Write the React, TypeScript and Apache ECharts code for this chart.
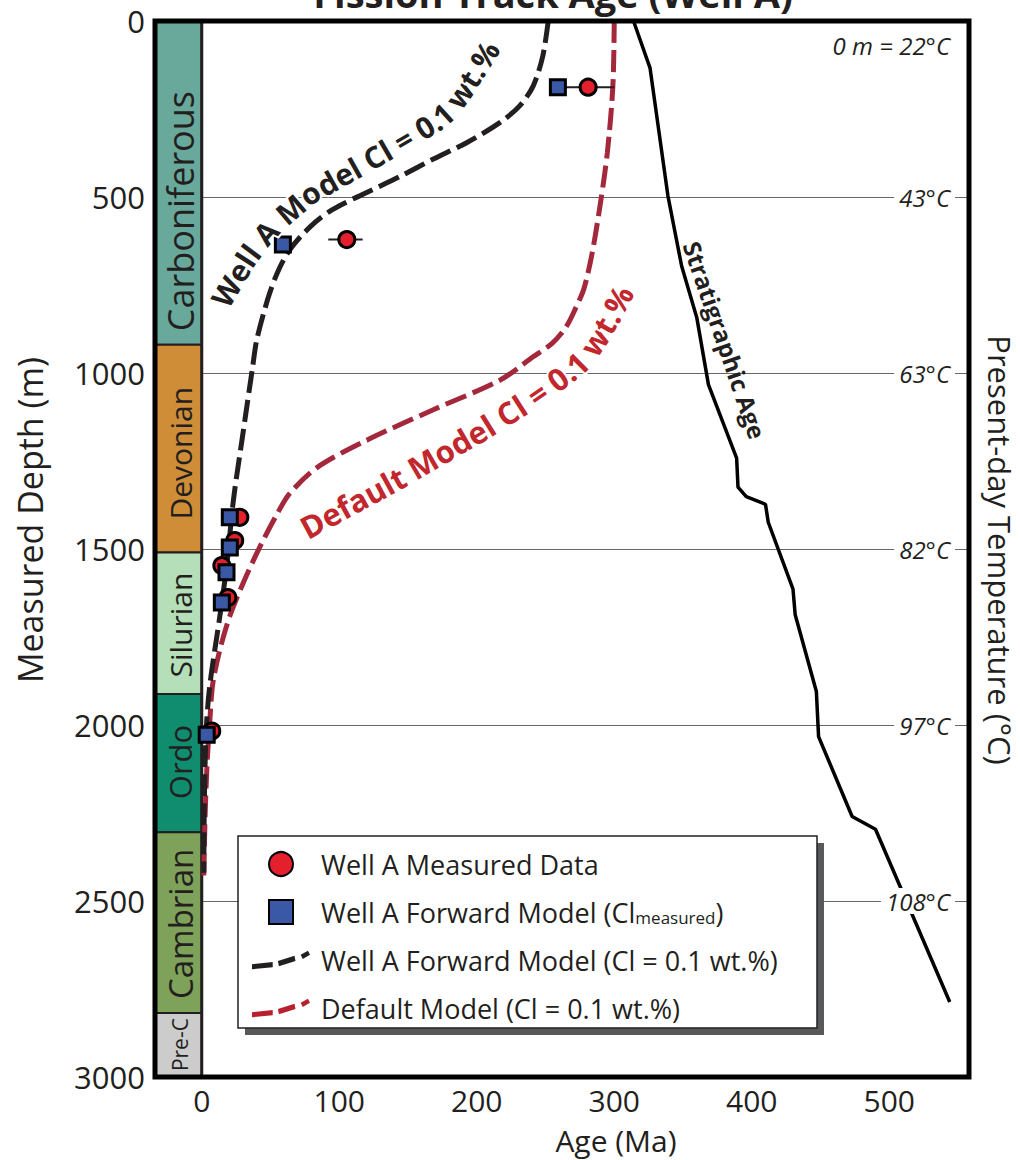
import React, { useEffect, useRef } from 'react';
import * as echarts from 'echarts';

const FONT = '"Open Sans", "Noto Sans", sans-serif';
const INK = '#231f20';

// Axis ranges
const X_MIN = -34;
const X_MAX = 558;
const DEPTH_MAX = 3000;
const xTickValues = [0, 100, 200, 300, 400, 500];

// Present-day temperature labels (right side)
const tempDepths = [500, 1000, 1500, 2000, 2500];
const tempLabels = ['43°C', '63°C', '82°C', '97°C', '108°C'];
const surfaceTempLabel = '0 m = 22°C';

// Stratigraphic column
const stratNames = ['Carboniferous', 'Devonian', 'Silurian', 'Ordo', 'Cambrian', 'Pre-C'];
const stratTops = [0, 920, 1510, 1912, 2305, 2818];
const stratBases = [920, 1510, 1912, 2305, 2818, 3000];
const stratLabelDepth = [540, 1228, 1716, 2105, 2565, 2908];
const stratColors = ['#69a99c', '#d08d37', '#b5dfb8', '#0f8d6e', '#7fa25a', '#cdcccc'];
const stratFontSizes = [36, 30, 30, 31, 33, 21];

// Measured fission-track ages (red circles)
const measuredAge = [281, 105.5, 27.7, 24, 14.6, 19, 7.3];
const measuredDepth = [188, 621, 1410, 1476, 1547, 1638, 2017];
// Error bars on measured ages
const errDepth = [188, 621];
const errLo = [262, 92];
const errHi = [300, 117];

// Forward model with measured Cl (blue squares)
const forwardAge = [259, 59, 20.4, 20.4, 18, 14.6, 3.6];
const forwardDepth = [188, 635, 1410, 1496, 1566, 1652, 2028];

// Well A forward model curve (Cl = 0.1 wt.%)
const wellModelAge = [252, 248, 241, 231, 217, 193, 168, 144, 120, 95, 79, 64, 55, 48, 40, 37, 30, 23, 18, 13, 6, 3.6, 2.5, 1.8, 1.5];
const wellModelDepth = [0, 100, 185, 242, 288, 345, 393, 442, 487, 536, 584, 650, 715, 790, 906, 983, 1171, 1362, 1553, 1695, 1883, 1989, 2100, 2250, 2420];

// Default model curve (Cl = 0.1 wt.%)
const defaultModelAge = [300, 299, 295, 290, 284, 278, 272, 265, 255, 241, 217, 168, 120, 84, 64, 55, 42, 30, 20, 13, 8, 6, 4, 2.5, 1.5];
const defaultModelDepth = [0, 185, 373, 516, 658, 760, 815, 869, 915, 954, 1020, 1105, 1191, 1268, 1342, 1399, 1496, 1598, 1695, 1789, 1883, 1980, 2100, 2250, 2430];

// Stratigraphic age line
const stratAgeAge = [314, 326, 339, 349, 360, 368.5, 389, 390, 396, 410, 412, 430, 431.6, 447, 448.6, 473, 490, 544];
const stratAgeDepth = [0, 133, 496, 696, 842, 1033, 1242, 1324, 1351, 1373, 1424, 1614, 1687, 1905, 2033, 2260, 2296, 2787];

const NAME_MEAS = 'Well A Measured Data';
const NAME_FWD = 'Well A Forward Model (Clmeasured)';
const NAME_WELL = 'Well A Forward Model (Cl = 0.1 wt.%)';
const NAME_DEF = 'Default Model (Cl = 0.1 wt.%)';

// Legend icon for the dashed model curves (slightly curved dashes)
const DASH_ICON = 'path://M0,17L20,15L20,20L0,22ZM25,14L41,9L42,14L26,19ZM47,8L54,4L56,8L49,12Z';

// Annotation baselines (pixel polylines) for curved labels
const wellLabelPath = [[232, 312], [260, 265], [283, 236], [318, 206], [365, 180], [410, 154], [450, 130], [468, 110], [484, 85], [505, 52]];
const defLabelPath = [[308, 540], [400, 490], [490, 438], [545, 403], [585, 373], [603, 350], [618, 325], [635, 293]];

function textOnPath(text: string, pts: number[][], color: string, weight: string, shift: number) {
  const canvas = document.createElement('canvas');
  const ctx = canvas.getContext('2d')!;
  ctx.font = `${weight} 100px "Open Sans"`;
  const chars = Array.from(text);
  const w100 = chars.map((c) => ctx.measureText(c).width);
  const total100 = w100.reduce((a, b) => a + b, 0);
  const segs: number[] = [];
  let L = 0;
  for (let i = 1; i < pts.length; i++) {
    const d = Math.hypot(pts[i][0] - pts[i - 1][0], pts[i][1] - pts[i - 1][1]);
    segs.push(d);
    L += d;
  }
  const size = (100 * L) / total100;
  const sc = size / 100;
  const pointAt = (s: number) => {
    s = Math.max(0, Math.min(L, s));
    let acc = 0;
    let k = 0;
    while (k < segs.length - 1 && acc + segs[k] < s) {
      acc += segs[k];
      k++;
    }
    const t = (s - acc) / segs[k];
    return [pts[k][0] + (pts[k + 1][0] - pts[k][0]) * t, pts[k][1] + (pts[k + 1][1] - pts[k][1]) * t];
  };
  const els: any[] = [];
  let cum = 0;
  chars.forEach((ch, i) => {
    const w = w100[i] * sc;
    const s = cum + w / 2;
    cum += w;
    if (ch === ' ') return;
    const p = pointAt(s);
    const a = pointAt(s - Math.max(w, 8));
    const b = pointAt(s + Math.max(w, 8));
    const ang = Math.atan2(b[1] - a[1], b[0] - a[0]);
    const nx = -Math.sin(ang);
    const ny = Math.cos(ang);
    els.push({
      type: 'text',
      x: p[0] + nx * shift * size,
      y: p[1] + ny * shift * size,
      rotation: -ang,
      z: 50,
      silent: true,
      style: {
        text: ch,
        fontSize: size,
        fontWeight: weight,
        fontFamily: FONT,
        fill: color,
        align: 'center',
        verticalAlign: 'bottom',
        stroke: '#fff',
        lineWidth: 4,
      },
    });
  });
  return els;
}

export default function App() {
  const ref = useRef<HTMLDivElement>(null);

  useEffect(() => {
    if (!ref.current) return;
    const chart = echarts.init(ref.current, undefined, { renderer: 'svg' });

    const pairs = (xs: number[], ys: number[]) => xs.map((x, i) => [x, ys[i]]);

    const graphic: any[] = [
      {
        type: 'text',
        x: 553,
        y: -7,
        z: 60,
        style: { text: 'Fission Track Age (Well A)', fontSize: 38, fontWeight: 'bold', fontFamily: FONT, fill: INK, align: 'center', verticalAlign: 'middle' },
      },
      {
        type: 'text',
        x: 30,
        y: 520,
        rotation: Math.PI / 2,
        z: 60,
        style: { text: 'Measured Depth (m)', fontSize: 34, fontFamily: FONT, fill: INK, align: 'center', verticalAlign: 'middle' },
      },
      {
        type: 'text',
        x: 1000,
        y: 550,
        rotation: -Math.PI / 2,
        z: 60,
        style: { text: 'Present-day Temperature (°C)', fontSize: 31, fontFamily: FONT, fill: INK, align: 'center', verticalAlign: 'middle' },
      },
      {
        type: 'text',
        x: 616,
        y: 1140,
        z: 60,
        style: { text: 'Age (Ma)', fontSize: 30, fontFamily: FONT, fill: INK, align: 'center', verticalAlign: 'middle' },
      },
      {
        type: 'text',
        x: 950,
        y: 45,
        z: 60,
        style: { text: surfaceTempLabel, fontSize: 24, fontStyle: 'italic', fontFamily: FONT, fill: INK, align: 'right', verticalAlign: 'middle' },
      },
      {
        type: 'text',
        x: 725,
        y: 340,
        rotation: (-71 * Math.PI) / 180,
        z: 60,
        style: { text: 'Stratigraphic Age', fontSize: 24, fontWeight: 'bold', fontFamily: FONT, fill: INK, align: 'center', verticalAlign: 'middle' },
      },
      ...textOnPath('Well A Model Cl = 0.1 wt.%', wellLabelPath, INK, 'bold', -0.02),
      ...textOnPath('Default Model Cl = 0.1 wt.%', defLabelPath, '#c1272d', 'bold', 0.12),
      // legend box with hard drop shadow
      { type: 'rect', z: 3, shape: { x: 245, y: 843, width: 579, height: 192 }, style: { fill: '#58595b' } },
      { type: 'rect', z: 3, shape: { x: 238, y: 836, width: 579, height: 192 }, style: { fill: '#fff', stroke: INK, lineWidth: 1.5 } },
      // plot frame
      { type: 'rect', z: 100, shape: { x: 155, y: 21, width: 814, height: 1056 }, style: { fill: 'none', stroke: '#000', lineWidth: 5 } },
    ];

    const option: any = {
      animation: false,
      backgroundColor: '#fff',
      textStyle: { fontFamily: FONT },
      grid: { left: 155, right: 51, top: 21, bottom: 83, containLabel: false, outerBoundsMode: 'none' },
      xAxis: {
        type: 'value',
        min: X_MIN,
        max: X_MAX,
        axisLine: { show: false },
        axisTick: { show: false },
        splitLine: { show: false },
        axisLabel: { customValues: xTickValues, fontSize: 30, color: INK, margin: 8, fontFamily: FONT },
      },
      yAxis: [
        {
          type: 'value',
          inverse: true,
          min: 0,
          max: DEPTH_MAX,
          interval: 500,
          axisLine: { show: false },
          axisTick: { show: false },
          splitLine: { show: true, lineStyle: { color: '#666', width: 1 } },
          axisLabel: { fontSize: 31, color: INK, margin: 10, fontFamily: FONT, formatter: (v: number) => String(v) },
        },
        {
          type: 'value',
          position: 'right',
          inverse: true,
          min: 0,
          max: DEPTH_MAX,
          z: 10,
          axisLine: { show: false },
          axisTick: { show: false },
          splitLine: { show: false },
          axisLabel: {
            inside: true,
            customValues: tempDepths,
            formatter: (v: number) => tempLabels[tempDepths.indexOf(v)] ?? '',
            fontSize: 24,
            fontStyle: 'italic',
            fontFamily: FONT,
            color: INK,
            backgroundColor: '#fff',
            padding: [1, 5],
            margin: 14,
          },
        },
      ],
      legend: {
        left: 247,
        top: 845,
        orient: 'vertical',
        itemWidth: 58,
        itemHeight: 24,
        itemGap: 20,
        selectedMode: false,
        data: [
          { name: NAME_MEAS, icon: 'circle' },
          { name: NAME_FWD, icon: 'path://M0,0L10,0L10,10L0,10Z' },
          { name: NAME_WELL, icon: DASH_ICON, itemStyle: { color: INK, borderWidth: 0 } },
          { name: NAME_DEF, icon: DASH_ICON, itemStyle: { color: '#b8202f', borderWidth: 0 } },
        ],
        formatter: (name: string) => (name === NAME_FWD ? 'Well A Forward Model (Cl{sub|measured})' : name),
        textStyle: {
          fontSize: 27,
          fontFamily: FONT,
          color: INK,
          lineHeight: 28,
          padding: [0, 0, 0, 6],
          rich: { sub: { fontSize: 17, fontFamily: FONT, color: INK, padding: [10, 0, 0, 0] } },
        },
      },
      series: [
        {
          type: 'custom',
          name: 'strat',
          z: 2,
          data: stratTops.map((t, i) => [t, stratBases[i], stratLabelDepth[i]]),
          renderItem: (params: any, api: any) => {
            const i = params.dataIndex;
            const p1 = api.coord([X_MIN, api.value(0)]);
            const p2 = api.coord([0, api.value(1)]);
            const pl = api.coord([0, api.value(2)]);
            return {
              type: 'group',
              children: [
                { type: 'rect', shape: { x: p1[0], y: p1[1], width: p2[0] - p1[0], height: p2[1] - p1[1] }, style: { fill: stratColors[i], stroke: INK, lineWidth: 2 } },
                { type: 'line', shape: { x1: p2[0], y1: p1[1], x2: p2[0], y2: p2[1] }, style: { stroke: INK, lineWidth: 3 } },
                {
                  type: 'text',
                  x: (p1[0] + p2[0]) / 2 + 2,
                  y: pl[1],
                  rotation: Math.PI / 2,
                  style: { text: stratNames[i], fontSize: stratFontSizes[i], fontFamily: FONT, fill: INK, align: 'center', verticalAlign: 'middle' },
                },
              ],
            };
          },
        },
        {
          type: 'custom',
          name: 'errors',
          z: 3,
          data: errLo.map((lo, i) => [lo, errDepth[i], errHi[i]]),
          renderItem: (params: any, api: any) => {
            const a = api.coord([api.value(0), api.value(1)]);
            const b = api.coord([api.value(2), api.value(1)]);
            return { type: 'line', shape: { x1: a[0], y1: a[1], x2: b[0], y2: b[1] }, style: { stroke: INK, lineWidth: 2 } };
          },
        },
        {
          type: 'line',
          name: NAME_DEF,
          data: pairs(defaultModelAge, defaultModelDepth),
          symbol: 'none',
          smooth: 0.3,
          z: 2,
          lineStyle: { color: '#a4283b', width: 5, type: [22, 7] },
          itemStyle: { color: '#a4283b' },
        },
        {
          type: 'line',
          name: NAME_WELL,
          data: pairs(wellModelAge, wellModelDepth),
          symbol: 'none',
          smooth: 0.3,
          z: 2,
          lineStyle: { color: INK, width: 5, type: [22, 7] },
          itemStyle: { color: INK },
        },
        {
          type: 'line',
          name: 'Stratigraphic Age',
          data: pairs(stratAgeAge, stratAgeDepth),
          symbol: 'none',
          z: 2,
          lineStyle: { color: '#000', width: 3.5 },
        },
        {
          type: 'scatter',
          name: NAME_MEAS,
          data: pairs(measuredAge, measuredDepth),
          symbol: 'circle',
          symbolSize: 16,
          z: 4,
          itemStyle: { color: '#e4202f', borderColor: '#000', borderWidth: 3, opacity: 1 },
        },
        {
          type: 'scatter',
          name: NAME_FWD,
          data: pairs(forwardAge, forwardDepth),
          symbol: 'rect',
          symbolSize: 15,
          z: 5,
          itemStyle: { color: '#3b58a7', borderColor: '#000', borderWidth: 3, opacity: 1 },
        },
      ],
      graphic,
    };

    chart.setOption(option);
    return () => chart.dispose();
  }, []);

  return <div ref={ref} style={{ position: 'absolute', left: 0, top: 0, width: 1020, height: 1160 }} />;
}
